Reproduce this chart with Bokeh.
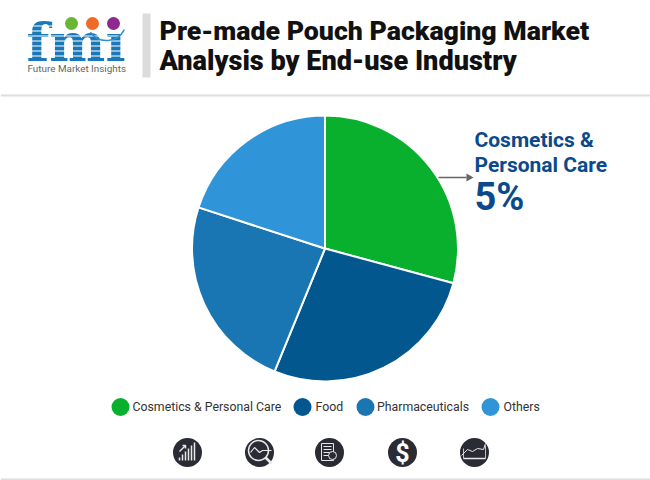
from math import pi
from bokeh.core.properties import value
from bokeh.plotting import figure
from bokeh.embed import file_html
from bokeh.resources import INLINE
from bokeh.models import Range1d

W, H = 650, 480

categories = ["Cosmetics & Personal Care", "Food", "Pharmaceuticals", "Others"]
shares = [29.2, 27, 23.8, 20]
colors = ["#08B02E", "#03578F", "#1A76B2", "#3095D8"]
title_lines = ["Pre-made Pouch Packaging Market", "Analysis by End-use Industry"]
callout_lines = ["Cosmetics &", "Personal Care"]
callout_value = "5%"
legend_dot_x = [120, 302, 365, 490]
legend_text_x = [132, 315, 376.5, 503]
icon_x = [187, 259, 329, 402, 474]

ROBOTO = value("Roboto")
TITLE_FONT = value("'Roboto Black', Roboto")
SERIF = value("DejaVu Serif")


def Y(v):
    return H - v


p = figure(width=W, height=H, output_backend="svg", toolbar_location=None,
           x_range=Range1d(0, W), y_range=Range1d(0, H),
           min_border=0, outline_line_color=None, background_fill_color="white",
           border_fill_color="white")
p.axis.visible = False
p.grid.visible = False

# header
p.text([159], [Y(30.5)], text=[title_lines[0]], text_font=TITLE_FONT, text_font_style="bold",
       text_font_size="26.7px", text_color="#111111", text_baseline="middle")
p.text([159], [Y(60)], text=[title_lines[1]], text_font=TITLE_FONT, text_font_style="bold",
       text_font_size="27.1px", text_color="#111111", text_baseline="middle")
p.quad(left=[142], right=[150], top=[Y(13)], bottom=[Y(77)], fill_color="#DCDCDC", line_color=None)
p.quad(left=[0], right=[650], top=[Y(94)], bottom=[Y(96)], fill_color="#DDDDDD", line_color=None)
p.quad(left=[0], right=[650], top=[Y(478)], bottom=[Y(480)], fill_color="#DDDDDD", line_color=None)

# logo
p.text([26], [Y(41)], text=["fmi"], text_font=SERIF, text_font_style="bold",
       text_font_size="53px", text_color="#1B78B8", text_baseline="alphabetic")
p.quad(left=[100], right=[128], top=[Y(14)], bottom=[Y(33)], fill_color="white", line_color=None)
for yy in [25, 30, 35, 40, 45, 50, 55]:
    p.quad(left=[24], right=[130], top=[Y(yy)], bottom=[Y(yy + 1.0)], fill_color="white", line_color=None)
p.circle([71, 92, 113], [Y(23)] * 3, radius=6.5, fill_color=["#6BB536", "#EE6B26", "#8E2A8E"], line_color=None)
p.arc([106], [Y(20)], radius=20, start_angle=1.2 * pi, end_angle=1.85 * pi, line_color="#2C8FD0", line_width=1.5)
p.text([27], [Y(68)], text=["Future Market Insights"], text_font=ROBOTO, text_font_size="9.9px",
       text_color="#666666", text_baseline="middle")

# pie, clockwise from the top
cx, cy, r = 324.5, Y(248), 133
total = sum(shares)
acc = 0
starts, ends = [], []
for s in shares:
    starts.append(pi / 2 - 2 * pi * (acc + s) / total)
    ends.append(pi / 2 - 2 * pi * acc / total)
    acc += s
p.wedge(x=[cx] * 4, y=[cy] * 4, radius=r, start_angle=starts, end_angle=ends,
        fill_color=colors, line_color="white", line_width=2)

# callout
p.text([474], [Y(139)], text=[callout_lines[0]], text_font=ROBOTO, text_font_style="bold",
       text_font_size="21px", text_color="#0A4A8C", text_baseline="middle")
p.text([474], [Y(164)], text=[callout_lines[1]], text_font=ROBOTO, text_font_style="bold",
       text_font_size="21px", text_color="#0A4A8C", text_baseline="middle")
p.text([474], [Y(196)], text=[callout_value], text_font=ROBOTO, text_font_style="bold",
       text_font_size="38px", text_color="#0A4A8C", text_baseline="middle")
p.line([438, 466], [Y(177), Y(177)], line_color="#666666", line_width=1.5)
p.patch([466, 473, 466], [Y(173), Y(177), Y(181)], fill_color="#666666", line_color=None)

# legend
p.circle(legend_dot_x, [Y(406.5)] * 4, radius=9, fill_color=colors, line_color=None)
p.text(legend_text_x, [Y(406.5)] * 4, text=categories, text_font=ROBOTO, text_font_size="12.3px",
       text_color="#333333", text_baseline="middle")

# icons
p.circle(icon_x, [Y(452)] * 5, radius=14.5, fill_color="#2B2B36", line_color=None)
ic = "#E8E8E8"
a = icon_x[0]
p.segment([a - 8 + 3 * i for i in range(6)], [Y(460)] * 6,
          [a - 8 + 3 * i for i in range(6)], [Y(457 - 3 * i) for i in range(6)],
          line_color=ic, line_width=1.5)
p.line([a - 8, a - 2], [Y(451), Y(445)], line_color=ic, line_width=1.5)
p.line([a - 5, a - 2, a - 2], [Y(445), Y(445), Y(448)], line_color=ic, line_width=1.5)
b = icon_x[1]
p.circle([b - 1], [Y(450)], radius=10, fill_color=None, line_color=ic, line_width=1.5)
p.line([b + 6, b + 12], [Y(457), Y(463)], line_color=ic, line_width=2.5)
p.line([b - 9, b - 5, b, b + 3, b + 12], [Y(452), Y(447), Y(452), Y(450), Y(450)], line_color=ic, line_width=1.2)
c = icon_x[2]
p.quad(left=[c - 8], right=[c + 4], top=[Y(443)], bottom=[Y(460)], fill_color=None, line_color=ic, line_width=1)
p.segment([c - 6] * 4, [Y(446), Y(449), Y(452), Y(455)], [c + 2] * 4, [Y(446), Y(449), Y(452), Y(455)],
          line_color=ic, line_width=1)
p.circle([c + 3], [Y(455)], radius=4, fill_color="#2B2B36", line_color=ic, line_width=1)
d = icon_x[3]
p.text([d], [Y(452.5)], text=["$"], text_font=ROBOTO, text_font_style="bold", text_font_size="25px",
       text_color="white", text_align="center", text_baseline="middle")
e = icon_x[4]
p.line([e - 13, e - 7, e - 2, e + 3, e + 9, e + 11], [Y(455), Y(449), Y(451), Y(448), Y(449), Y(443)],
       line_color=ic, line_width=1)
p.segment([e - 11], [Y(458)], [e + 11], [Y(458)], line_color=ic, line_width=1.5)
p.line([e - 11, e - 11], [Y(448), Y(458)], line_color=ic, line_width=0.8)
p.line([e + 11, e + 11], [Y(445), Y(458)], line_color=ic, line_width=0.8)

open("out.html", "w").write(file_html(p, INLINE))
